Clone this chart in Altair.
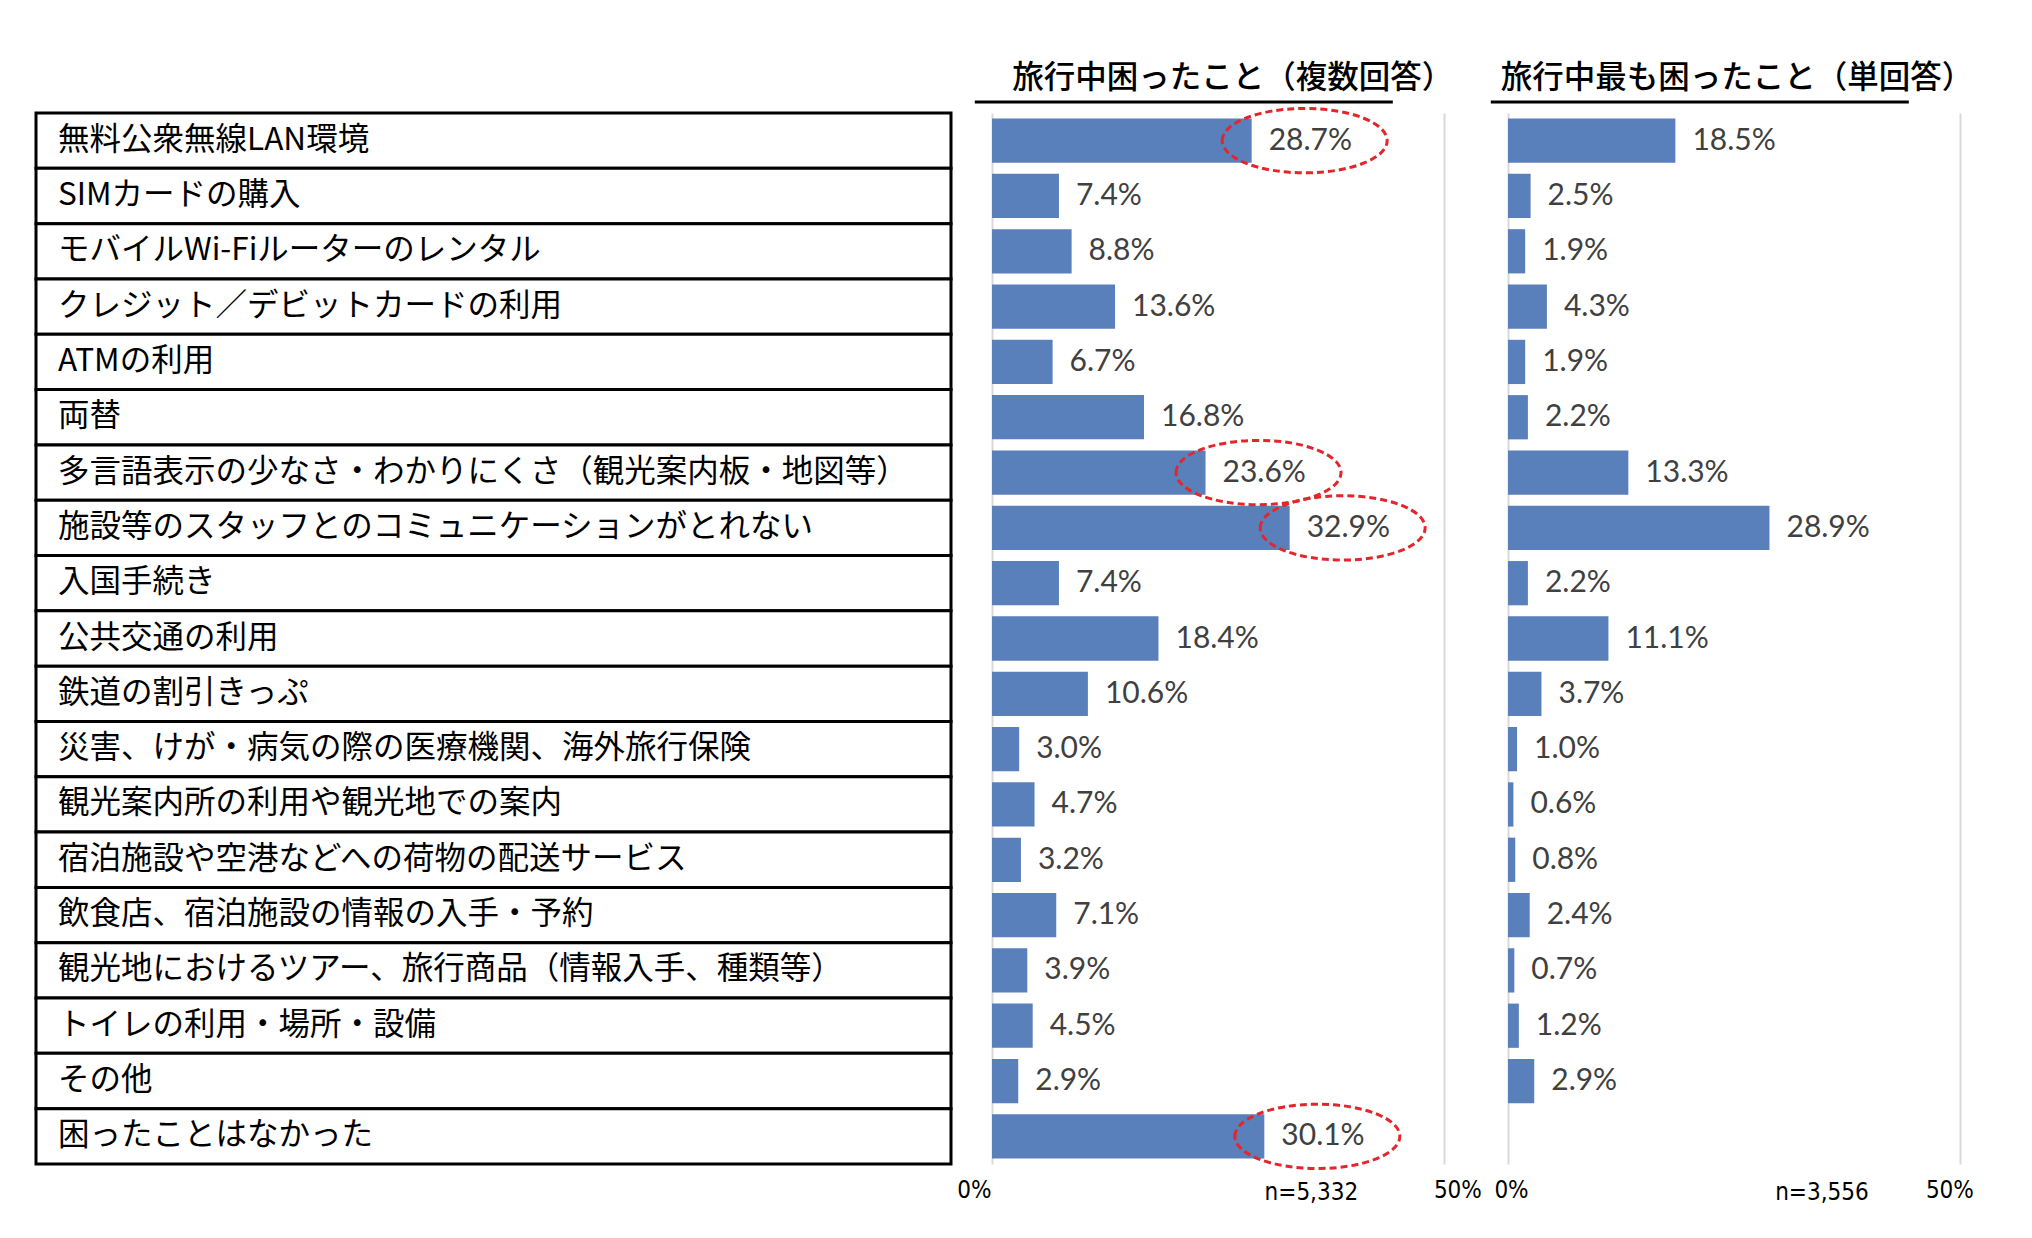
import altair as alt
import pandas as pd

categories = [
    "無料公衆無線LAN環境",
    "SIMカードの購入",
    "モバイルWi-Fiルーターのレンタル",
    "クレジット／デビットカードの利用",
    "ATMの利用",
    "両替",
    "多言語表示の少なさ・わかりにくさ（観光案内板・地図等）",
    "施設等のスタッフとのコミュニケーションがとれない",
    "入国手続き",
    "公共交通の利用",
    "鉄道の割引きっぷ",
    "災害、けが・病気の際の医療機関、海外旅行保険",
    "観光案内所の利用や観光地での案内",
    "宿泊施設や空港などへの荷物の配送サービス",
    "飲食店、宿泊施設の情報の入手・予約",
    "観光地におけるツアー、旅行商品（情報入手、種類等）",
    "トイレの利用・場所・設備",
    "その他",
    "困ったことはなかった",
]
multi_values = [28.7, 7.4, 8.8, 13.6, 6.7, 16.8, 23.6, 32.9, 7.4, 18.4,
                10.6, 3.0, 4.7, 3.2, 7.1, 3.9, 4.5, 2.9, 30.1]
single_values = [18.5, 2.5, 1.9, 4.3, 1.9, 2.2, 13.3, 28.9, 2.2, 11.1,
                 3.7, 1.0, 0.6, 0.8, 2.4, 0.7, 1.2, 2.9, None]
highlighted = [
    "無料公衆無線LAN環境",
    "多言語表示の少なさ・わかりにくさ（観光案内板・地図等）",
    "施設等のスタッフとのコミュニケーションがとれない",
    "困ったことはなかった",
]
title_multi = "旅行中困ったこと（複数回答）"
title_single = "旅行中最も困ったこと（単回答）"
n_multi = "n=5,332"
n_single = "n=3,556"
axis_ticks = [0, 50]

JP = "Noto Sans CJK JP"
NUM = "Lato"
AX = "Liberation Sans Narrow, DejaVu Sans Condensed, Liberation Sans"
H = 1051
W = 475
BAR = "#5A80BB"

df_multi = pd.DataFrame({"cat": categories, "v": multi_values})
df_multi["hl"] = df_multi["cat"].isin(highlighted)
df_single = pd.DataFrame({"cat": categories, "v": single_values}).dropna()

ybar = alt.Y("cat:N", sort=categories, axis=None,
             scale=alt.Scale(domain=categories, paddingInner=0.2, paddingOuter=0.1))

# label table
table_base = alt.Chart(pd.DataFrame({"cat": categories})).encode(
    y=alt.Y("cat:N", sort=categories, axis=None,
            scale=alt.Scale(domain=categories, paddingInner=0, paddingOuter=0))
)
table_rect = table_base.mark_rect(fill="white", stroke="black", strokeWidth=3).encode(
    x=alt.value(0), x2=alt.value(915)
)
table_text = table_base.mark_text(
    align="left", baseline="middle", font=JP, fontSize=31.5, color="black"
).encode(x=alt.value(22), text="cat:N")
table = alt.layer(table_rect, table_text).properties(width=915, height=H)


def panel(df, title, title_pos, ntext, npos, align_expr, offset_expr, hl=False):
    xscale = alt.Scale(domain=[0, 52.5], nice=False)
    base = alt.Chart(df).encode(y=ybar)
    bars = base.mark_bar(color=BAR).encode(
        x=alt.X("v:Q", scale=xscale, title=None,
                axis=alt.Axis(values=axis_ticks, labelExpr="datum.value + '%'",
                              grid=True, gridColor="#d9d9d9", gridWidth=2,
                              domain=False, ticks=False,
                              labelFont=AX, labelFontSize=24, labelColor="black",
                              labelPadding=14,
                              labelAlign={"expr": align_expr},
                              labelOffset={"expr": offset_expr}))
    )
    labels = base.transform_calculate(
        lbl="format(datum.v, '.1f') + '%'"
    ).mark_text(
        align="left", baseline="middle", dx=17, font=NUM, fontSize=30, color="#404040"
    ).encode(x=alt.X("v:Q", scale=xscale), text="lbl:N")
    layers = [bars]
    if hl:
        ell = alt.Chart(df).transform_filter("datum.hl").mark_point(
            shape="M -1 0 A 1 0.39 0 1 1 1 0 A 1 0.39 0 1 1 -1 0 Z",
            filled=False, stroke="#e3262b", strokeWidth=3, strokeDash=[7, 4],
            size=27225, opacity=1,
        ).encode(x=alt.X("v:Q", scale=xscale), y=ybar, xOffset=alt.value(53))
        layers.append(ell)
    layers.append(labels)
    ttl = alt.Chart(pd.DataFrame({"t": [title]})).mark_text(
        font=JP, fontSize=31.5, fontWeight=500, color="black",
        baseline="middle", align="center"
    ).encode(x=alt.datum(title_pos), y=alt.value(-34), text="t:N")
    uline = alt.Chart(pd.DataFrame({"t": [title]})).mark_rule(
        color="black", strokeWidth=3
    ).encode(x=alt.datum(-1.9), x2=alt.datum(44.3), y=alt.value(-11))
    ntxt = alt.Chart(pd.DataFrame({"t": [ntext]})).mark_text(
        font=AX, fontSize=24, color="black", baseline="middle", align="center"
    ).encode(x=alt.datum(npos), y=alt.value(H + 29), text="t:N")
    return alt.layer(*layers, ttl, uline, ntxt).properties(width=W, height=H)


p1 = panel(df_multi, title_multi, 26.6, n_multi, 35.3,
           "datum.value == 0 ? 'right' : 'center'",
           "datum.value == 0 ? -1 : 13", hl=True)
p2 = panel(df_single, title_single, 25.3, n_single, 34.7,
           "'center'",
           "datum.value == 0 ? 3 : -11")

chart = alt.hconcat(table, p1, p2, spacing=41, bounds="flush").properties(
    padding={"left": 26, "top": 55, "right": 20, "bottom": 20},
    background="white",
).configure_view(stroke=None)

chart.save("out.html", embed_options={"renderer": "svg", "actions": False})
